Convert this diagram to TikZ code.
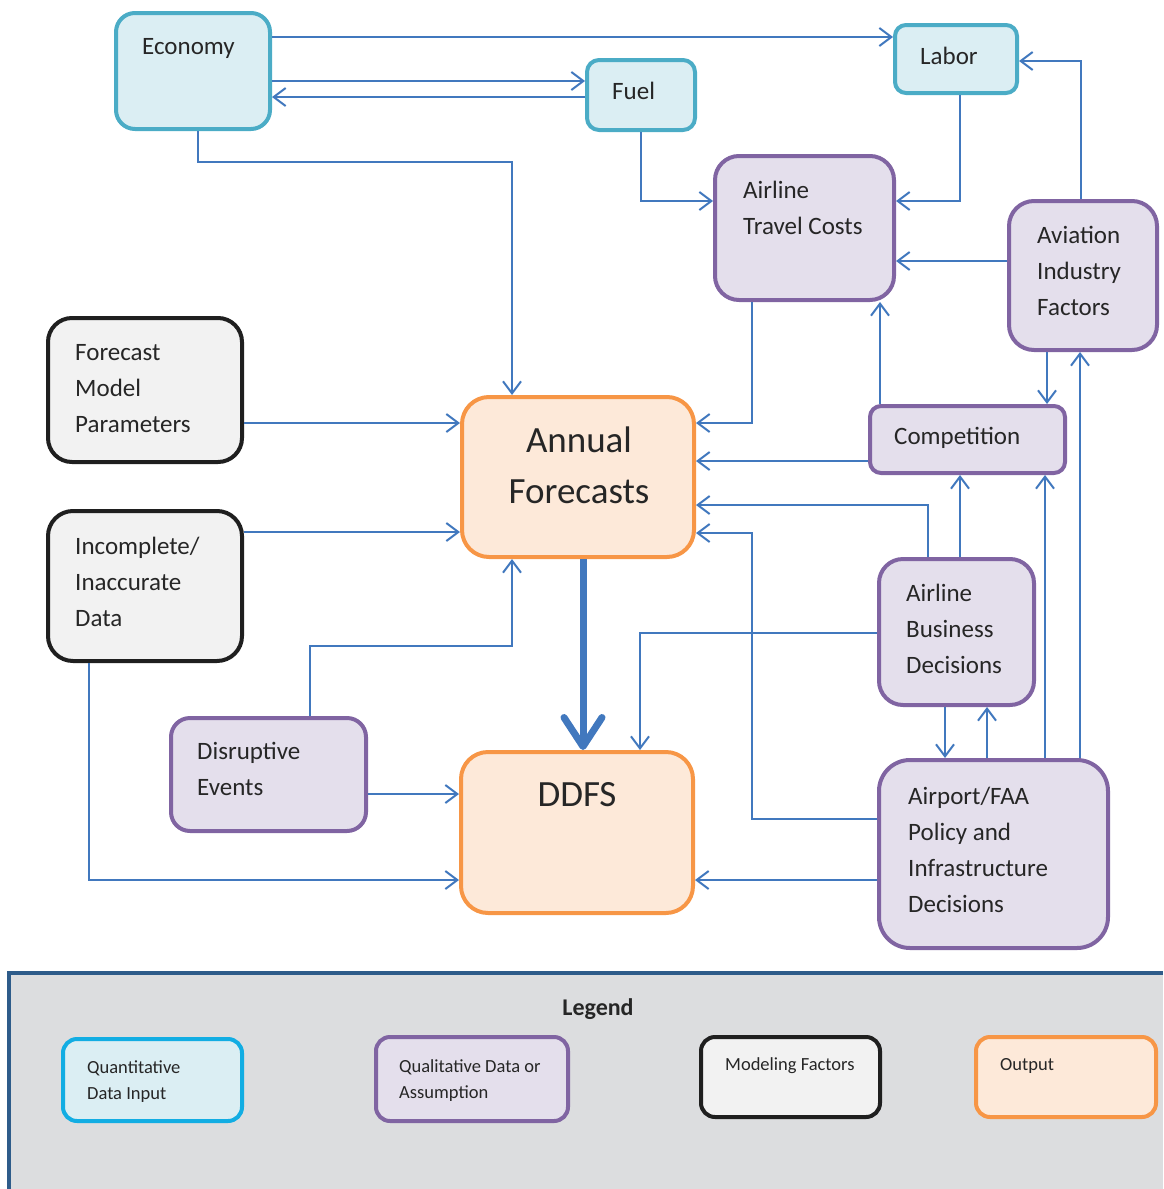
\documentclass[tikz,border=0pt]{standalone}
\usepackage{fontspec}
\setmainfont{Carlito}
\usetikzlibrary{arrows.meta}

\definecolor{cyanline}{HTML}{4BACC6}
\definecolor{cyanfill}{HTML}{DBEEF3}
\definecolor{purpline}{HTML}{8064A2}
\definecolor{purpfill}{HTML}{E4DFEC}
\definecolor{blkline}{HTML}{1F1F1F}
\definecolor{blkfill}{HTML}{F2F2F2}
\definecolor{orgline}{HTML}{F79646}
\definecolor{orgfill}{HTML}{FDE9D9}
\definecolor{conn}{HTML}{4178BE}
\definecolor{legfill}{HTML}{DCDDDF}
\definecolor{legline}{HTML}{2E5C8A}
\definecolor{legcyan}{HTML}{12ADE3}
\definecolor{txt}{HTML}{262626}

% stacked lines of text whose baseline is the first line's
\newcommand\tstack[2]{\vtop{\baselineskip=#1\relax\lineskiplimit=-100pt\relax #2}}
\newcommand\tline[1]{\hbox{#1}}

\tikzset{
  box/.style={draw, line width=4pt, inner sep=0pt, rectangle},
  quant/.style={box, draw=cyanline, fill=cyanfill},
  qual/.style={box, draw=purpline, fill=purpfill},
  model/.style={box, draw=blkline, fill=blkfill},
  outp/.style={box, draw=orgline, fill=orgfill},
  legquant/.style={box, draw=legcyan, fill=cyanfill},
  lbl/.style={anchor=base west, inner sep=0pt, text=txt, font=\fontsize{25}{36}\selectfont},
  leglbl/.style={anchor=base west, inner sep=0pt, text=txt, font=\fontsize{18.5}{26}\selectfont},
  big/.style={anchor=base, inner sep=0pt, text=txt, font=\fontsize{37}{51}\selectfont},
  flow/.style={draw=conn, line width=2pt, -{Straight Barb[length=12pt,width=18pt]}},
  mainflow/.style={draw=conn, line width=7pt, -{Straight Barb[length=29pt,width=38pt,round]}},
}

\begin{document}
\begin{tikzpicture}[x=1pt, y=-1pt]
\useasboundingbox (0,0) rectangle (1163,1189);

% ---------- legend panel ----------
\fill[legfill] (9,973) rectangle (1163,1189);
\draw[legline, line width=4.5pt] (9,1189) -- (9,973) -- (1163,973);

% ---------- boxes ----------
\node[quant, minimum width=154pt, minimum height=116pt, rounded corners=19pt] (econ)  at (193,71) {};
\node[quant, minimum width=108pt, minimum height=70pt,  rounded corners=12pt] (fuel)  at (641,95) {};
\node[quant, minimum width=122pt, minimum height=68pt,  rounded corners=11pt] (labor) at (956,59) {};
\node[qual,  minimum width=179pt, minimum height=144pt, rounded corners=24pt] (atc)   at (804.5,228) {};
\node[qual,  minimum width=148pt, minimum height=149pt, rounded corners=25pt] (avi)   at (1083,275.5) {};
\node[model, minimum width=194pt, minimum height=144pt, rounded corners=24pt] (fmp)   at (145,390) {};
\node[outp,  minimum width=232pt, minimum height=160pt, rounded corners=27pt] (af)    at (578,477) {};
\node[qual,  minimum width=195pt, minimum height=67pt,  rounded corners=11pt] (comp)  at (967.5,439.5) {};
\node[model, minimum width=194pt, minimum height=150pt, rounded corners=25pt] (inc)   at (145,586) {};
\node[qual,  minimum width=155pt, minimum height=146pt, rounded corners=24pt] (abd)   at (956.5,632) {};
\node[qual,  minimum width=195pt, minimum height=113pt, rounded corners=19pt] (dis)   at (268.5,774.5) {};
\node[outp,  minimum width=232pt, minimum height=161pt, rounded corners=27pt] (ddfs)  at (577,832.5) {};
\node[qual,  minimum width=229pt, minimum height=188pt, rounded corners=31pt] (apt)   at (993.5,854) {};

% ---------- box texts ----------
\node[lbl] (econ-t)  at (142,54)  {Economy};
\node[lbl] (fuel-t)  at (612,99)  {Fuel};
\node[lbl] (labor-t) at (920,64)  {Labor};
\node[lbl] (atc-t)   at (743,198) {\tstack{36pt}{\tline{Airline}\tline{Travel Costs}}};
\node[lbl] (avi-t)   at (1037,243){\tstack{36pt}{\tline{Aviation}\tline{Industry}\tline{Factors}}};
\node[lbl] (fmp-t)   at (75,360)  {\tstack{36pt}{\tline{Forecast}\tline{Model}\tline{Parameters}}};
\node[lbl] (comp-t)  at (894,444) {Competition};
\node[lbl] (inc-t)   at (75,554)  {\tstack{36pt}{\tline{Incomplete/}\tline{Inaccurate}\tline{Data}}};
\node[lbl] (abd-t)   at (906,601) {\tstack{36pt}{\tline{Airline}\tline{Business}\tline{Decisions}}};
\node[lbl] (dis-t)   at (197,759) {\tstack{36pt}{\tline{Disruptive}\tline{Events}}};
\node[lbl] (apt-t)   at (908,804) {\tstack{36pt}{\tline{Airport/FAA}\tline{Policy and}\tline{Infrastructure}\tline{Decisions}}};
\node[big] (af-t1)   at (579,452) {Annual};
\node[big] (af-t2)   at (579,503) {Forecasts};
\node[big] (ddfs-t)  at (577,806) {DDFS};

% ---------- connectors ----------
\draw[flow] (econ.east |- 0,37) -- (labor.west |- 0,37);
\draw[flow] (econ.east |- 0,81) -- (fuel.west |- 0,81);
\draw[flow] (fuel.west |- 0,97) -- (econ.east |- 0,97);
\draw[flow] (econ.south -| 198,0) |- (512,162) -- (af.north -| 512,0);
\draw[flow] (fuel.south) |- (atc.west |- 0,201);
\draw[flow] (labor.south -| 960,0) |- (atc.east |- 0,201);
\draw[flow] (avi.north -| 1081,0) |- (labor.east |- 0,61);
\draw[flow] (avi.west |- 0,261) -- (atc.east |- 0,261);
\draw[flow] (avi.south -| 1047,0) -- (comp.north -| 1047,0);
\draw[flow] (atc.south -| 752,0) |- (af.east |- 0,423);
\draw[flow] (comp.north -| 880,0) -- (atc.south -| 880,0);
\draw[flow] (comp.west |- 0,461) -- (af.east |- 0,461);
\draw[flow] (abd.north -| 928,0) |- (af.east |- 0,505);
\draw[flow] (abd.north -| 960,0) -- (comp.south -| 960,0);
\draw[flow] (apt.north -| 1045,0) -- (comp.south -| 1045,0);
\draw[flow] (apt.north -| 1080,0) -- (avi.south -| 1080,0);
\draw[flow] (apt.west |- 0,819) -| (752,533) -- (af.east |- 0,533);
\draw[flow] (abd.west |- 0,633) -| (ddfs.north -| 640,0);
\draw[flow] (abd.south -| 945,0) -- (apt.north -| 945,0);
\draw[flow] (apt.north -| 987,0) -- (abd.south -| 987,0);
\draw[flow] (apt.west |- 0,880) -- (ddfs.east |- 0,880);
\draw[flow] (fmp.east |- 0,423) -- (af.west |- 0,423);
\draw[flow] (inc.east |- 0,532) -- (af.west |- 0,532);
\draw[flow] (inc.south -| 89,0) |- (ddfs.west |- 0,880);
\draw[flow] (dis.north -| 310,0) |- (512,646) -- (af.south -| 512,0);
\draw[flow] (dis.east |- 0,794) -- (ddfs.west |- 0,794);
\draw[mainflow] (af.south -| 583,0) -- (ddfs.north -| 583,0);

% ---------- legend ----------
\node[anchor=base, inner sep=0pt, text=txt, font=\fontsize{24}{28}\selectfont\bfseries] (legend-t) at (598,1015) {Legend};
\node[legquant, minimum width=179pt, minimum height=82pt, rounded corners=14pt] (lgq) at (152.5,1080) {};
\node[qual,  minimum width=192pt, minimum height=84pt, rounded corners=14pt] (lgl) at (472,1079) {};
\node[model, minimum width=179pt, minimum height=80pt, rounded corners=14pt] (lgm) at (790.5,1077) {};
\node[outp,  minimum width=180pt, minimum height=80pt, rounded corners=14pt] (lgo) at (1066,1077) {};
\node[leglbl] (lgq-t) at (87,1073)  {\tstack{26pt}{\tline{Quantitative}\tline{Data Input}}};
\node[leglbl] (lgl-t) at (399,1072) {\tstack{26pt}{\tline{Qualitative Data or}\tline{Assumption}}};
\node[leglbl] (lgm-t) at (725,1070) {Modeling Factors};
\node[leglbl] (lgo-t) at (1000,1070) {Output};
\end{tikzpicture}
\end{document}
